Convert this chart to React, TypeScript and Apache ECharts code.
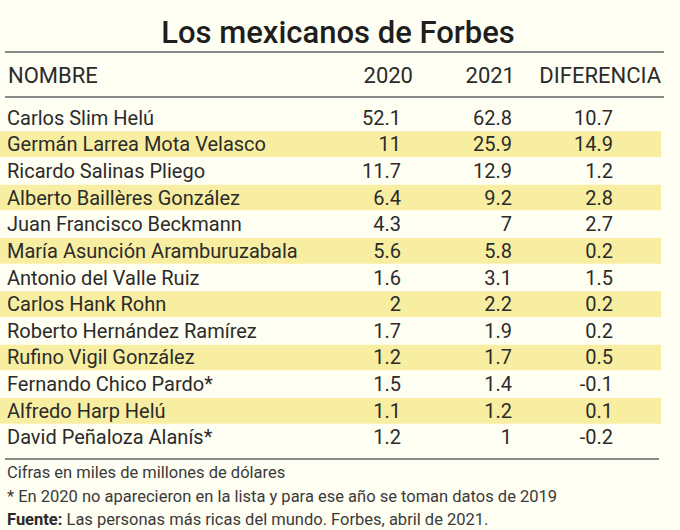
import React, { useEffect, useRef } from "react";
import * as echarts from "echarts";

const title = "Los mexicanos de Forbes";
const headers = ["NOMBRE", "2020", "2021", "DIFERENCIA"];
const names = [
  "Carlos Slim Helú",
  "Germán Larrea Mota Velasco",
  "Ricardo Salinas Pliego",
  "Alberto Baillères González",
  "Juan Francisco Beckmann",
  "María Asunción Aramburuzabala",
  "Antonio del Valle Ruiz",
  "Carlos Hank Rohn",
  "Roberto Hernández Ramírez",
  "Rufino Vigil González",
  "Fernando Chico Pardo*",
  "Alfredo Harp Helú",
  "David Peñaloza Alanís*",
];
const values2020 = [52.1, 11, 11.7, 6.4, 4.3, 5.6, 1.6, 2, 1.7, 1.2, 1.5, 1.1, 1.2];
const values2021 = [62.8, 25.9, 12.9, 9.2, 7, 5.8, 3.1, 2.2, 1.9, 1.7, 1.4, 1.2, 1];
const diferencia = [10.7, 14.9, 1.2, 2.8, 2.7, 0.2, 1.5, 0.2, 0.2, 0.5, -0.1, 0.1, -0.2];
const notes = [
  "Cifras en miles de millones de dólares",
  "* En 2020 no aparecieron en la lista y para ese año se toman datos de 2019",
];
const sourceLabel = "Fuente:";
const sourceText = " Las personas más ricas del mundo. Forbes, abril de 2021.";

const FONT = "Roboto, 'Noto Sans', sans-serif";
const TEXT = "#2b2b2b";
const BG = "#fffef3";
const BAND = "#f8eea2";
const LINE = "#8a8a8a";

export default function App() {
  const ref = useRef<HTMLDivElement>(null);
  useEffect(() => {
    document.body.style.margin = "0";
    if (!ref.current) return;
    const chart = echarts.init(ref.current, null, { renderer: "svg" });
    const rowFont = `20px ${FONT}`;
    const headFont = `22px ${FONT}`;
    const noteFont = `16.5px ${FONT}`;
    const option: any = {
      animation: false,
      backgroundColor: BG,
      grid: { left: 0, right: 0, top: 104.2, bottom: 79.2 },
      xAxis: { type: "value", min: 0, max: 680, show: false },
      yAxis: { type: "category", data: names, inverse: true, show: false },
      series: [
        {
          type: "custom",
          encode: { x: 0, y: 1 },
          data: names.map((_, i) => [0, i]),
          renderItem: (params: any, api: any) => {
            const i = api.value(1);
            const c = api.coord([0, i]);
            const y = c[1];
            const bh = api.size([0, 1])[1];
            const colX = (v: number) => api.coord([v, i])[0];
            const children: any[] = [];
            if (i % 2 === 1) {
              children.push({
                type: "rect",
                shape: { x: colX(0), y: y - bh / 2 + 0.5, width: colX(661), height: bh - 1 },
                style: { fill: BAND },
              });
            }
            const t = (txt: string, x: number, align: string) => ({
              type: "text",
              x,
              y,
              style: { text: txt, fill: TEXT, font: rowFont, align, verticalAlign: "middle" },
            });
            children.push(t(names[i], colX(7), "left"));
            children.push(t(String(values2020[i]), colX(401), "right"));
            children.push(t(String(values2021[i]), colX(512), "right"));
            children.push(t(String(diferencia[i]), colX(613), "right"));
            return { type: "group", children };
          },
        },
      ],
      graphic: [
        {
          type: "text",
          x: 338,
          y: 32,
          style: { text: title, fill: "#1e1e1e", font: `500 31px ${FONT}`, align: "center", verticalAlign: "middle" },
        },
        { type: "line", shape: { x1: 5, y1: 52, x2: 664, y2: 52 }, style: { stroke: LINE, lineWidth: 2 } },
        {
          type: "text", x: 8, y: 75,
          style: { text: headers[0], fill: TEXT, font: headFont, align: "left", verticalAlign: "middle" },
        },
        {
          type: "text", x: 413, y: 75,
          style: { text: headers[1], fill: TEXT, font: headFont, align: "right", verticalAlign: "middle" },
        },
        {
          type: "text", x: 515, y: 75,
          style: { text: headers[2], fill: TEXT, font: headFont, align: "right", verticalAlign: "middle" },
        },
        {
          type: "text", x: 661, y: 75,
          style: { text: headers[3], fill: TEXT, font: headFont, align: "right", verticalAlign: "middle" },
        },
        { type: "line", shape: { x1: 5, y1: 97, x2: 664, y2: 97 }, style: { stroke: LINE, lineWidth: 2 } },
        { type: "line", shape: { x1: 5, y1: 459, x2: 659, y2: 459 }, style: { stroke: LINE, lineWidth: 2 } },
        {
          type: "text", x: 7, y: 472,
          style: { text: notes[0], fill: "#3a3a3a", font: noteFont, align: "left", verticalAlign: "middle" },
        },
        {
          type: "text", x: 7, y: 496,
          style: { text: notes[1], fill: "#3a3a3a", font: noteFont, align: "left", verticalAlign: "middle" },
        },
        {
          type: "text", x: 7, y: 519,
          style: {
            text: `{b|${sourceLabel}}{n|${sourceText}}`,
            fill: "#3a3a3a",
            font: noteFont,
            align: "left",
            verticalAlign: "middle",
            rich: {
              b: { fontWeight: "bold", fontSize: 16.5, fontFamily: FONT, fill: "#2a2a2a" },
              n: { fontSize: 16.5, fontFamily: FONT, fill: "#3a3a3a" },
            },
          },
        },
      ],
    };
    chart.setOption(option);
    return () => chart.dispose();
  }, []);
  return <div ref={ref} style={{ width: 680, height: 530 }} />;
}
